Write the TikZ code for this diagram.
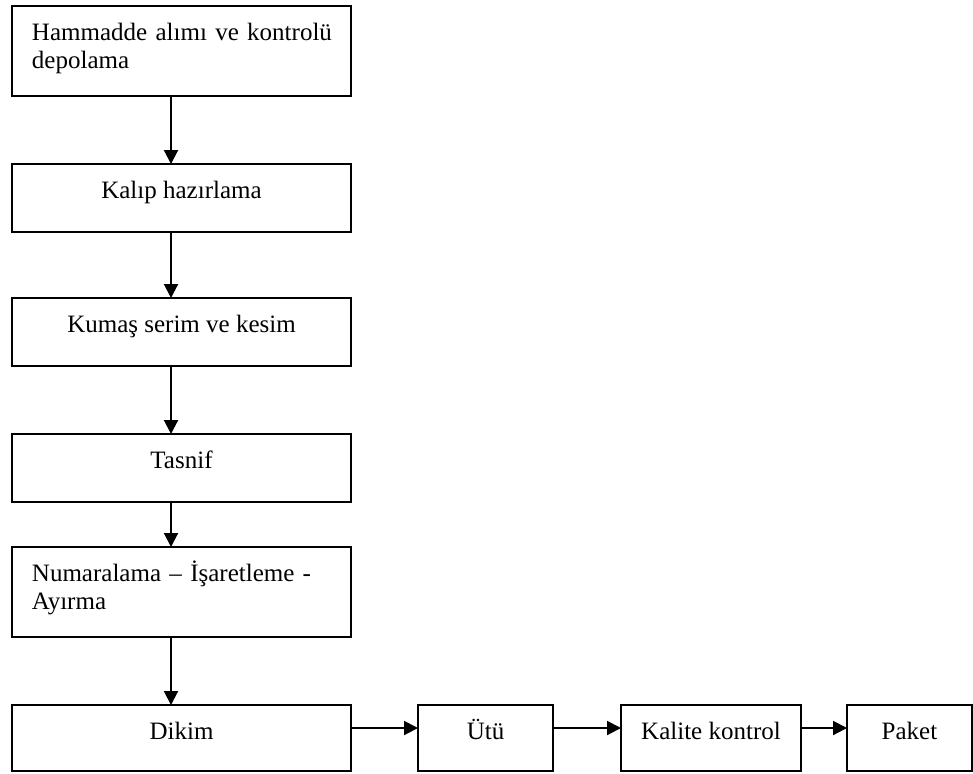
\documentclass[tikz,border=0pt]{standalone}
\usepackage{fontspec}
\setmainfont{Liberation Serif}
\usepackage{tikz}
\usetikzlibrary{arrows.meta}

\tikzset{
    kutu/.style={draw=black, line width=1pt, inner sep=0pt, outer sep=0pt, anchor=north west,
                 font=\fontsize{12.5}{14.2}\selectfont, text height=17pt},
    ikisatir/.style={minimum height=45pt, text depth=28pt, text width=149.5pt,
                 align=left, inner xsep=10pt},
    ok/.style={-{Triangle[width=7pt,length=7pt]}, line width=1pt}
}

\begin{document}
\begin{tikzpicture}[x=0.5pt,y=-0.5pt]
    \useasboundingbox (0,0) rectangle (973,773);

        \node[kutu, ikisatir, minimum width=169.5pt] (hammadde) at (12,6)
              {\mbox{Hammadde alımı ve kontrolü}\\depolama};
        \node[kutu, minimum width=169.5pt, minimum height=34pt, text depth=17pt] (kalip) at (12,164) {Kalıp hazırlama};
        \node[kutu, minimum width=169.5pt, minimum height=34pt, text depth=17pt] (kumas) at (12,298) {Kumaş serim ve kesim};
        \node[kutu, minimum width=169.5pt, minimum height=34pt, text depth=17pt] (tasnif) at (12,434) {Tasnif};
        \node[kutu, ikisatir, minimum width=169.5pt] (numara) at (12,547)
              {\mbox{Numaralama – İşaretleme -}\\Ayırma};

        \node[kutu, minimum width=169.5pt, minimum height=33pt, text depth=16pt] (dikim) at (12,705) {Dikim};
        \node[kutu, minimum width=67.5pt, minimum height=33pt, text depth=16pt] (utu) at (418,705) {Ütü};
        \node[kutu, minimum width=90pt, minimum height=33pt, text depth=16pt] (kalite) at (621,705) {Kalite kontrol};
        \node[kutu, minimum width=62.5pt, minimum height=33pt, text depth=16pt] (paket) at (847,705) {Paket};

        \draw[ok] ([xshift=-5.25pt]hammadde.south) -- ([xshift=-5.25pt]kalip.north);
        \draw[ok] ([xshift=-5.25pt]kalip.south) -- ([xshift=-5.25pt]kumas.north);
        \draw[ok] ([xshift=-5.25pt]kumas.south) -- ([xshift=-5.25pt]tasnif.north);
        \draw[ok] ([xshift=-5.25pt]tasnif.south) -- ([xshift=-5.25pt]numara.north);
        \draw[ok] ([xshift=-5.25pt]numara.south) -- ([xshift=-5.25pt]dikim.north);

        \draw[ok] ([yshift=5pt]dikim.east) -- ([yshift=5pt]utu.west);
        \draw[ok] ([yshift=5pt]utu.east) -- ([yshift=5pt]kalite.west);
        \draw[ok] ([yshift=5pt]kalite.east) -- ([yshift=5pt]paket.west);

\end{tikzpicture}
\end{document}
